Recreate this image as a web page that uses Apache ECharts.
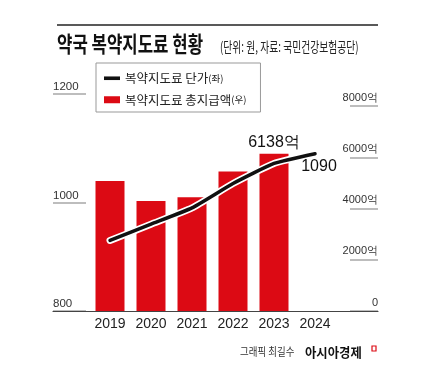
<!DOCTYPE html>
<html>
<head>
<meta charset="utf-8">
<script src="https://cdn.jsdelivr.net/npm/echarts@6/dist/echarts.min.js"></script>
<style>
html,body{margin:0;padding:0;background:#fff;}
#c{width:433px;height:382px;}
</style>
</head>
<body>
<div id="c"></div>
<script>
// ---- data ----
const years = ['2019', '2020', '2021', '2022', '2023', '2024'];
const unitPrice = [930, 960, 990, 1035, 1072, 1090];          // 복약지도료 단가 (원, 좌)
const totalPay = [5070, 4290, 4440, 5440, 6138, null];         // 복약지도료 총지급액 (억, 우)
const leftTicks = { min: 800, max: 1200, interval: 200 };
const rightTicks = { min: 0, max: 8000, interval: 2000 };
const lineName = '복약지도료 단가';
const barName = '복약지도료 총지급액';

const NUM = "'Liberation Sans', Arial, sans-serif";
const KR = "'Noto Sans CJK KR', 'Noto Sans', sans-serif";
const RED = '#dc0a14';

// index of last labelled values
const lastBarIdx = totalPay.reduce((a, v, i) => (v != null ? i : a), -1);
const lastLineIdx = unitPrice.length - 1;

const barData = totalPay.map((v, i) => i === lastBarIdx ? {
  value: v,
  label: { show: true, position: 'top', distance: 3, formatter: '{c}억',
    fontFamily: NUM, fontSize: 16, color: '#111' }
} : (v == null ? '-' : v));

const lineData = unitPrice.map((v, i) => i === lastLineIdx ? {
  value: v,
  label: { show: true, position: 'bottom', distance: 5, offset: [4, 0], formatter: '{c}',
    fontFamily: NUM, fontSize: 16, color: '#111' }
} : v);

const GL = 89.5, GR = 433 - 335.5;

const chart = echarts.init(document.getElementById('c'), null, { renderer: 'canvas' });
chart.setOption({
  animation: false,
  backgroundColor: '#fff',
  grid: [
    { left: GL, right: GR, top: 94, height: 217 },
    { left: GL, right: GR, top: 106, height: 205 },
    { left: 53, right: 55, top: 310, height: 1 }
  ],
  legend: {
    left: 96, top: 63,
    orient: 'vertical',
    data: [
      { name: lineName, icon: 'path://M0,0 L16,0 L16,3.6 L0,3.6 Z' },
      { name: barName, icon: 'rect' }
    ],
    itemWidth: 16, itemHeight: 7, itemGap: 9,
    padding: [9, 14, 6, 8],
    borderColor: '#999', borderWidth: 1,
    formatter: function (n) { return n === lineName ? '{a|' + n + '}{b|(좌)}' : '{a|' + n + '}{b|(우)}'; },
    textStyle: {
      color: '#222',
      rich: {
        a: { fontFamily: KR, fontSize: 12.5, color: '#222' },
        b: { fontFamily: KR, fontSize: 9.5, color: '#222' }
      }
    }
  },
  xAxis: [
    { type: 'category', gridIndex: 0, data: years,
      axisLine: { show: false }, axisTick: { show: false },
      axisLabel: { interval: 0, fontFamily: NUM, fontSize: 14, color: '#222', margin: 6 } },
    { type: 'category', gridIndex: 1, data: years, show: false },
    { type: 'value', gridIndex: 2, min: 0, max: 1, z: 10,
      axisLine: { show: true, lineStyle: { color: '#444', width: 1.2 } },
      axisTick: { show: false }, axisLabel: { show: false }, splitLine: { show: false } }
  ],
  yAxis: [
    { type: 'value', gridIndex: 0, position: 'left', offset: 3.5,
      min: leftTicks.min, max: leftTicks.max, interval: leftTicks.interval,
      axisLine: { show: false },
      axisTick: { show: true, length: 33, lineStyle: { color: '#a8a8a8', width: 1.5 } },
      splitLine: { show: false },
      axisLabel: { align: 'left', margin: 33, verticalAlign: 'bottom', padding: [0, 0, 1, 0],
        fontFamily: NUM, fontSize: 11.5, color: '#333', formatter: v => String(v) } },
    { type: 'value', gridIndex: 1, position: 'right', offset: 14.5,
      min: rightTicks.min, max: rightTicks.max, interval: rightTicks.interval,
      axisLine: { show: false },
      axisTick: { show: true, length: 28, lineStyle: { color: '#a8a8a8', width: 1.5 } },
      splitLine: { show: false },
      axisLabel: { align: 'right', margin: 28, verticalAlign: 'bottom', padding: [0, 0, 3, 0],
        fontFamily: NUM, fontSize: 11, color: '#333',
        formatter: v => v === 0 ? '0' : String(v) + '억' } },
    { type: 'value', gridIndex: 2, show: false }
  ],
  series: [
    { name: barName, type: 'bar', xAxisIndex: 1, yAxisIndex: 1, data: barData,
      barWidth: 29, itemStyle: { color: RED }, z: 2 },
    { name: lineName + '_halo', type: 'line', xAxisIndex: 0, yAxisIndex: 0, data: unitPrice,
      smooth: 0.15, showSymbol: false, silent: true,
      lineStyle: { color: '#fff', width: 7, cap: 'round' }, z: 3 },
    { name: lineName, type: 'line', xAxisIndex: 0, yAxisIndex: 0, data: lineData,
      smooth: 0.15, symbol: 'circle', symbolSize: 0, showSymbol: true,
      itemStyle: { color: '#111' },
      lineStyle: { color: '#111', width: 3.5, cap: 'round' }, z: 4 }
  ],
  graphic: [
    { type: 'line', shape: { x1: 57, y1: 25, x2: 378, y2: 25 }, style: { stroke: '#222', lineWidth: 1.5 } },
    { type: 'text', x: 57, y: 44, scaleX: 0.76,
      style: { text: '약국 복약지도료 현황', fontFamily: KR, fontSize: 22, fontWeight: 'bold',
        fill: '#111', verticalAlign: 'middle' } },
    { type: 'text', x: 220, y: 46.5, scaleX: 0.7,
      style: { text: '(단위: 원, 자료: 국민건강보험공단)', fontFamily: KR, fontSize: 14,
        fill: '#222', verticalAlign: 'middle' } },
    { type: 'text', x: 240, y: 352, scaleX: 0.86,
      style: { text: '그래픽 최길수', fontFamily: KR, fontSize: 11, fill: '#333', verticalAlign: 'middle' } },
    { type: 'text', x: 305, y: 352, scaleX: 0.95,
      style: { text: '아시아경제', fontFamily: KR, fontSize: 13, fontWeight: 'bold', fill: '#111', verticalAlign: 'middle' } },
    { type: 'rect', shape: { x: 372, y: 346, width: 4, height: 5 }, style: { fill: 'none', stroke: RED, lineWidth: 1.2 } }
  ]
});
</script>
</body>
</html>
